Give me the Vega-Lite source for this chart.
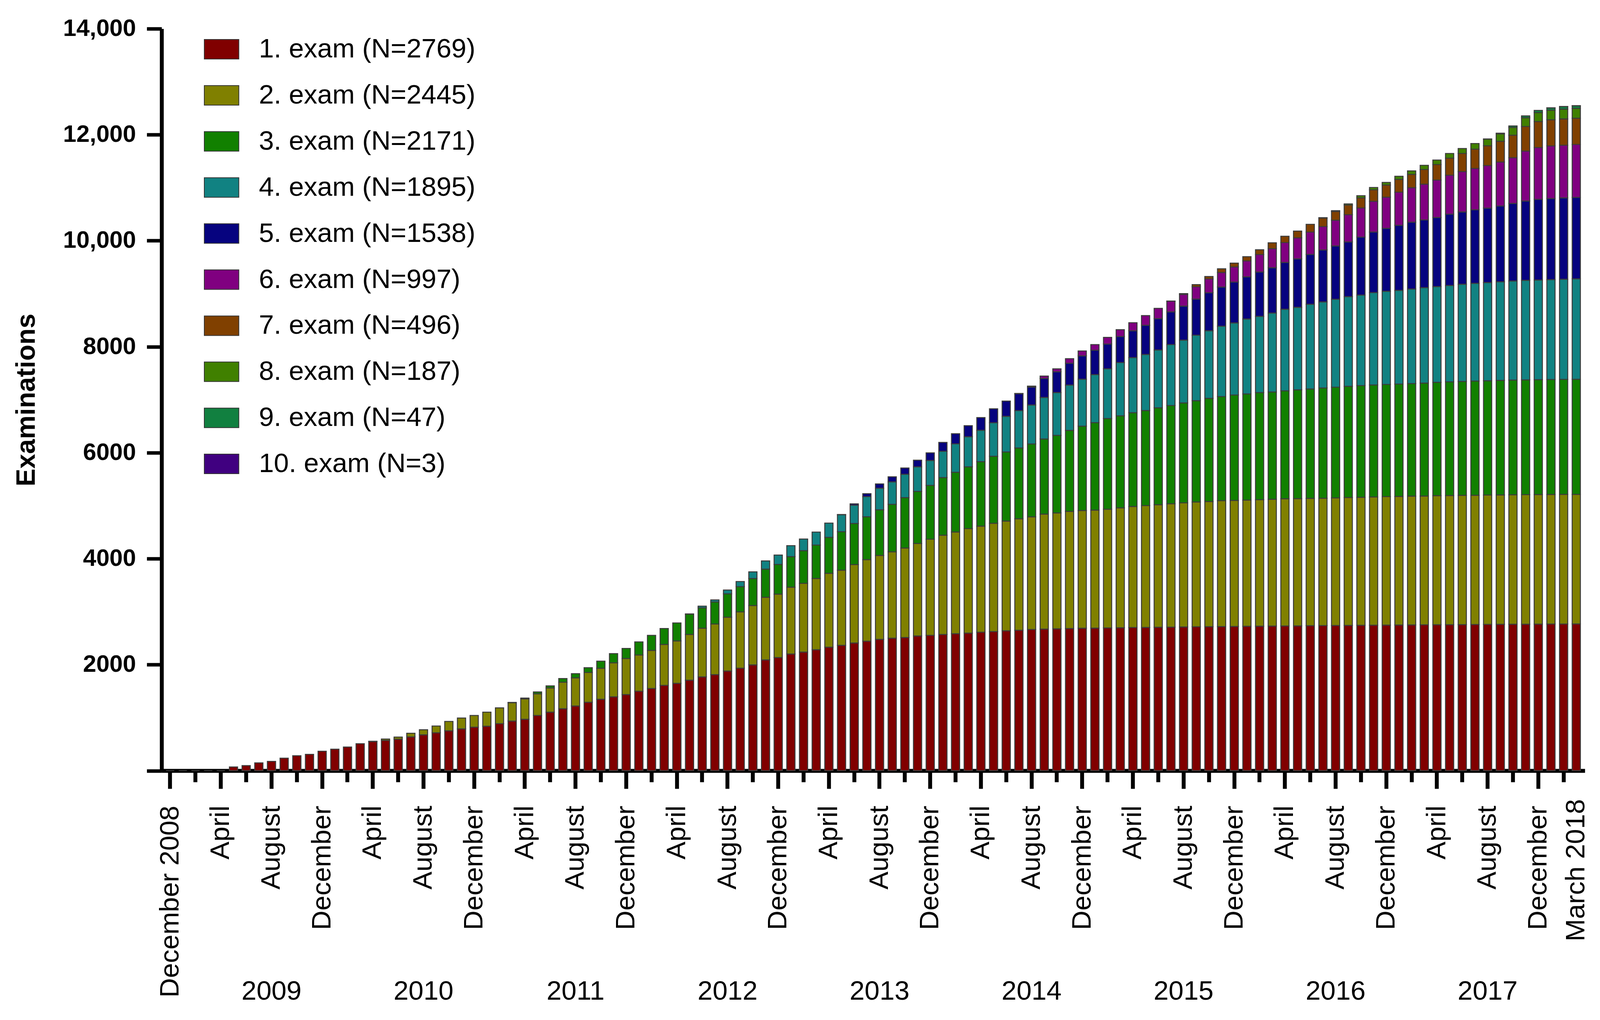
{
"$schema": "https://vega.github.io/schema/vega-lite/v6.json",
"width": 4096, "height": 2610,
"autosize": {"type": "fit", "contains": "padding"},
"padding": {"left": 34.7, "top": 42.5, "right": 28.8, "bottom": 39},
"background": "white",
"config": {"font": "Liberation Sans", "view": {"stroke": null}},
"data": {"values": [
{"m":"2008-12","e01":0},{"m":"2009-01","e01":0},{"m":"2009-02","e01":0},{"m":"2009-03","e01":0},{"m":"2009-04","e01":0},
{"m":"2009-05","e01":70},{"m":"2009-06","e01":95},{"m":"2009-07","e01":148},{"m":"2009-08","e01":176},{"m":"2009-09","e01":236},
{"m":"2009-10","e01":282},{"m":"2009-11","e01":307},{"m":"2009-12","e01":366},{"m":"2010-01","e01":406},{"m":"2010-02","e01":446},
{"m":"2010-03","e01":508},{"m":"2010-04","e01":550,"e02":5},{"m":"2010-05","e01":572,"e02":25},{"m":"2010-06","e01":594,"e02":40},
{"m":"2010-07","e01":638,"e02":69},{"m":"2010-08","e01":676,"e02":96},{"m":"2010-09","e01":715,"e02":127},{"m":"2010-10","e01":753,"e02":177},
{"m":"2010-11","e01":789,"e02":204},{"m":"2010-12","e01":820,"e02":221},{"m":"2011-01","e01":838,"e02":266},{"m":"2011-02","e01":887,"e02":299},
{"m":"2011-03","e01":937,"e02":346,"e03":5},{"m":"2011-04","e01":970,"e02":385,"e03":15},{"m":"2011-05","e01":1042,"e02":408,"e03":35},
{"m":"2011-06","e01":1104,"e02":457,"e03":40},{"m":"2011-07","e01":1168,"e02":500,"e03":70},{"m":"2011-08","e01":1221,"e02":530,"e03":80},
{"m":"2011-09","e01":1290,"e02":562,"e03":92},{"m":"2011-10","e01":1348,"e02":584,"e03":135},{"m":"2011-11","e01":1394,"e02":642,"e03":172},
{"m":"2011-12","e01":1436,"e02":680,"e03":190},{"m":"2012-01","e01":1498,"e02":684,"e03":247},{"m":"2012-02","e01":1550,"e02":720,"e03":283},
{"m":"2012-03","e01":1610,"e02":772,"e03":300},{"m":"2012-04","e01":1648,"e02":800,"e03":340},
{"m":"2012-05","e01":1708,"e02":862,"e03":383,"e04":5},{"m":"2012-06","e01":1770,"e02":918,"e03":386,"e04":30},
{"m":"2012-07","e01":1812,"e02":956,"e03":415,"e04":40},{"m":"2012-08","e01":1881,"e02":1015,"e03":440,"e04":72},
{"m":"2012-09","e01":1933,"e02":1063,"e03":477,"e04":97},{"m":"2012-10","e01":1996,"e02":1119,"e03":511,"e04":125},
{"m":"2012-11","e01":2090,"e02":1182,"e03":532,"e04":155},{"m":"2012-12","e01":2135,"e02":1196,"e03":560,"e04":177},
{"m":"2013-01","e01":2201,"e02":1262,"e03":577,"e04":205},{"m":"2013-02","e01":2239,"e02":1296,"e03":616,"e04":220},
{"m":"2013-03","e01":2282,"e02":1345,"e03":630,"e04":245},{"m":"2013-04","e01":2330,"e02":1394,"e03":678,"e04":270},
{"m":"2013-05","e01":2365,"e02":1418,"e03":727,"e04":320,"e05":3},{"m":"2013-06","e01":2410,"e02":1478,"e03":776,"e04":345,"e05":25},
{"m":"2013-07","e01":2442,"e02":1540,"e03":810,"e04":380,"e05":55},{"m":"2013-08","e01":2477,"e02":1585,"e03":860,"e04":408,"e05":80},
{"m":"2013-09","e01":2500,"e02":1630,"e03":896,"e04":424,"e05":95},{"m":"2013-10","e01":2512,"e02":1689,"e03":952,"e04":440,"e05":118},
{"m":"2013-11","e01":2543,"e02":1744,"e03":984,"e04":462,"e05":125},{"m":"2013-12","e01":2553,"e02":1814,"e03":1016,"e04":470,"e05":144},
{"m":"2014-01","e01":2570,"e02":1873,"e03":1088,"e04":496,"e05":168},{"m":"2014-02","e01":2585,"e02":1918,"e03":1128,"e04":536,"e05":192},
{"m":"2014-03","e01":2595,"e02":1971,"e03":1168,"e04":568,"e05":208},{"m":"2014-04","e01":2612,"e02":2003,"e03":1216,"e04":592,"e05":240},
{"m":"2014-05","e01":2626,"e02":2042,"e03":1264,"e04":632,"e05":264},{"m":"2014-06","e01":2640,"e02":2070,"e03":1304,"e04":672,"e05":288},
{"m":"2014-07","e01":2650,"e02":2103,"e03":1336,"e04":704,"e05":320,"e06":5},{"m":"2014-08","e01":2664,"e02":2125,"e03":1376,"e04":736,"e05":336,"e06":20},
{"m":"2014-09","e01":2672,"e02":2170,"e03":1416,"e04":784,"e05":360,"e06":45},{"m":"2014-10","e01":2677,"e02":2186,"e03":1464,"e04":808,"e05":392,"e06":55},
{"m":"2014-11","e01":2682,"e02":2210,"e03":1530,"e04":855,"e05":410,"e06":88},{"m":"2014-12","e01":2687,"e02":2222,"e03":1591,"e04":888,"e05":440,"e06":92},
{"m":"2015-01","e01":2690,"e02":2227,"e03":1650,"e04":906,"e05":462,"e06":105},{"m":"2015-02","e01":2693,"e02":2241,"e03":1710,"e04":939,"e05":468,"e06":125},
{"m":"2015-03","e01":2697,"e02":2262,"e03":1736,"e04":1006,"e05":491,"e06":130},{"m":"2015-04","e01":2700,"e02":2285,"e03":1769,"e04":1040,"e05":508,"e06":150},
{"m":"2015-05","e01":2703,"e02":2299,"e03":1794,"e04":1058,"e05":550,"e06":183},{"m":"2015-06","e01":2706,"e02":2313,"e03":1828,"e04":1091,"e05":592,"e06":194},
{"m":"2015-07","e01":2709,"e02":2327,"e03":1853,"e04":1151,"e05":617,"e06":202,"e07":3},{"m":"2015-08","e01":2712,"e02":2341,"e03":1887,"e04":1184,"e05":643,"e06":220,"e07":15},
{"m":"2015-09","e01":2715,"e02":2355,"e03":1912,"e04":1235,"e05":682,"e06":232,"e07":40},{"m":"2015-10","e01":2718,"e02":2361,"e03":1946,"e04":1277,"e05":717,"e06":260,"e07":45},
{"m":"2015-11","e01":2720,"e02":2376,"e03":1963,"e04":1327,"e05":740,"e06":275,"e07":70},{"m":"2015-12","e01":2722,"e02":2378,"e03":1988,"e04":1361,"e05":771,"e06":285,"e07":72},
{"m":"2016-01","e01":2724,"e02":2380,"e03":2005,"e04":1413,"e05":797,"e06":300,"e07":80},{"m":"2016-02","e01":2727,"e02":2386,"e03":2022,"e04":1438,"e05":837,"e06":330,"e07":90},
{"m":"2016-03","e01":2729,"e02":2392,"e03":2025,"e04":1489,"e05":856,"e06":360,"e07":110},{"m":"2016-04","e01":2731,"e02":2399,"e03":2038,"e04":1540,"e05":882,"e06":375,"e07":120},
{"m":"2016-05","e01":2733,"e02":2399,"e03":2055,"e04":1557,"e05":914,"e06":396,"e07":128},{"m":"2016-06","e01":2735,"e02":2403,"e03":2064,"e04":1599,"e05":941,"e06":422,"e07":145},
{"m":"2016-07","e01":2737,"e02":2403,"e03":2081,"e04":1625,"e05":981,"e06":440,"e07":160,"e08":8},{"m":"2016-08","e01":2739,"e02":2408,"e03":2089,"e04":1659,"e05":1006,"e06":486,"e07":165,"e08":15},
{"m":"2016-09","e01":2741,"e02":2414,"e03":2098,"e04":1692,"e05":1032,"e06":515,"e07":180,"e08":22},{"m":"2016-10","e01":2743,"e02":2415,"e03":2108,"e04":1709,"e05":1092,"e06":551,"e07":190,"e08":42},
{"m":"2016-11","e01":2745,"e02":2419,"e03":2114,"e04":1743,"e05":1143,"e06":581,"e07":215,"e08":45},{"m":"2016-12","e01":2747,"e02":2425,"e03":2116,"e04":1759,"e05":1186,"e06":588,"e07":230,"e08":50},
{"m":"2017-01","e01":2749,"e02":2426,"e03":2120,"e04":1768,"e05":1228,"e06":625,"e07":242,"e08":58},{"m":"2017-02","e01":2751,"e02":2429,"e03":2124,"e04":1784,"e05":1262,"e06":650,"e07":252,"e08":66},
{"m":"2017-03","e01":2752,"e02":2431,"e03":2130,"e04":1802,"e05":1278,"e06":674,"e07":276,"e08":80},{"m":"2017-04","e01":2754,"e02":2435,"e03":2140,"e04":1806,"e05":1303,"e06":706,"e07":293,"e08":85},
{"m":"2017-05","e01":2755,"e02":2437,"e03":2145,"e04":1818,"e05":1346,"e06":735,"e07":322,"e08":88},{"m":"2017-06","e01":2757,"e02":2438,"e03":2150,"e04":1835,"e05":1363,"e06":762,"e07":340,"e08":95},
{"m":"2017-07","e01":2758,"e02":2439,"e03":2155,"e04":1843,"e05":1388,"e06":781,"e07":362,"e08":108},
{"m":"2017-08","e01":2760,"e02":2440,"e03":2158,"e04":1852,"e05":1405,"e06":804,"e07":373,"e08":125,"e09":3},
{"m":"2017-09","e01":2761,"e02":2442,"e03":2162,"e04":1860,"e05":1430,"e06":830,"e07":392,"e08":140,"e09":12},
{"m":"2017-10","e01":2763,"e02":2443,"e03":2165,"e04":1869,"e05":1464,"e06":863,"e07":423,"e08":148,"e09":28},
{"m":"2017-11","e01":2764,"e02":2444,"e03":2167,"e04":1877,"e05":1498,"e06":942,"e07":463,"e08":165,"e09":35},
{"m":"2017-12","e01":2766,"e02":2444,"e03":2168,"e04":1880,"e05":1523,"e06":978,"e07":490,"e08":170,"e09":40},
{"m":"2018-01","e01":2767,"e02":2445,"e03":2169,"e04":1885,"e05":1530,"e06":993,"e07":493,"e08":180,"e09":44,"e10":1},
{"m":"2018-02","e01":2768,"e02":2445,"e03":2170,"e04":1890,"e05":1535,"e06":995,"e07":495,"e08":185,"e09":47,"e10":2},
{"m":"2018-03","e01":2769,"e02":2445,"e03":2171,"e04":1895,"e05":1538,"e06":997,"e07":496,"e08":187,"e09":47,"e10":3}
]},
"transform": [
  {"fold": ["e01","e02","e03","e04","e05","e06","e07","e08","e09","e10"], "as": ["exam","v"]},
  {"filter": "isValid(datum.v)"}
],
"layer": [
 {
  "mark": {"type": "bar", "stroke": "#3c3c3c", "strokeWidth": 2.5},
  "encoding": {
   "x": {"field": "m", "type": "ordinal", "scale": {"type": "band", "paddingInner": 0.35, "paddingOuter": 0.35},
     "axis": {
       "orient": "bottom",
       "values": ["2008-12","2009-02","2009-04","2009-06","2009-08","2009-10","2009-12","2010-02","2010-04","2010-06","2010-08","2010-10","2010-12","2011-02","2011-04","2011-06","2011-08","2011-10","2011-12","2012-02","2012-04","2012-06","2012-08","2012-10","2012-12","2013-02","2013-04","2013-06","2013-08","2013-10","2013-12","2014-02","2014-04","2014-06","2014-08","2014-10","2014-12","2015-02","2015-04","2015-06","2015-08","2015-10","2015-12","2016-02","2016-04","2016-06","2016-08","2016-10","2016-12","2017-02","2017-04","2017-06","2017-08","2017-10","2017-12","2018-02","2018-03"],
       "labelExpr": "datum.value == '2008-12' ? 'December 2008' : datum.value == '2018-03' ? 'March 2018' : slice(datum.value,5) == '12' ? 'December' : slice(datum.value,5) == '04' ? 'April' : slice(datum.value,5) == '08' ? 'August' : ''",
       "labelAngle": 270, "labelAlign": "right", "labelBaseline": "middle",
       "labelFontSize": 69, "labelFont": "Liberation Sans", "labelColor": "black", "labelPadding": 43,
       "tickSize": {"condition": {"test": "indexof(['12','04','08'], slice(datum.value,5)) >= 0", "value": 46}, "value": 29},
       "tickOpacity": {"condition": {"test": "datum.value == '2018-03'", "value": 0}, "value": 1},
       "tickWidth": 10, "tickColor": "black", "domainWidth": 10, "domainColor": "black",
       "labelOverlap": false, "labelFlush": false, "labelLimit": 0, "title": null, "grid": false
     }},
   "y": {"field": "v", "type": "quantitative", "stack": "zero", "scale": {"domain": [0, 14000], "nice": false},
     "axis": {
       "values": [0,2000,4000,6000,8000,10000,12000,14000],
       "labelExpr": "datum.value == 0 ? '' : (datum.value >= 10000 ? format(datum.value, ',') : format(datum.value, 'd'))",
       "title": "Examinations", "titleFont": "Liberation Sans", "titleFontSize": 68, "titleFontWeight": "bold", "titleColor": "black",
       "titleX": -345, "titleY": 949.5, "titleAngle": 270, "titleBaseline": "middle", "titleAlign": "center",
       "labelFont": "Liberation Sans", "labelFontSize": 61, "labelFontWeight": "bold", "labelColor": "black", "labelPadding": 28, "labelLimit": 0,
       "tickSize": 38, "tickWidth": 9, "tickColor": "black", "domainWidth": 10, "domainColor": "black", "grid": false, "labelOverlap": false, "labelFlush": false
     }},
   "color": {"field": "exam", "type": "nominal",
     "scale": {"domain": ["e01","e02","e03","e04","e05","e06","e07","e08","e09","e10"],
               "range": ["#800000","#808000","#118000","#118282","#06037f","#800080","#804000","#408000","#118040","#400080"]},
     "legend": {
       "orient": "none", "legendX": 108, "legendY": 7, "title": null, "padding": 0,
       "labelExpr": "['1. exam (N=2769)','2. exam (N=2445)','3. exam (N=2171)','4. exam (N=1895)','5. exam (N=1538)','6. exam (N=997)','7. exam (N=496)','8. exam (N=187)','9. exam (N=47)','10. exam (N=3)'][indexof(['e01','e02','e03','e04','e05','e06','e07','e08','e09','e10'], datum.value)]",
       "labelFont": "Liberation Sans", "labelFontSize": 69, "labelColor": "black", "labelLimit": 0, "labelOffset": 50,
       "symbolType": "M-1,-0.566L1,-0.566L1,0.566L-1,0.566Z", "symbolSize": 7815,
       "symbolStrokeColor": "#333333", "symbolStrokeWidth": 2, "symbolOpacity": 1,
       "rowPadding": 36.9
     }},
   "order": {"field": "exam", "type": "nominal", "sort": "ascending"}
  }
 },
 {
  "mark": {"type": "bar", "opacity": 0},
  "encoding": {
   "x": {"field": "m", "type": "ordinal", "scale": {"type": "band", "paddingInner": 0.35, "paddingOuter": 0.35},
     "axis": {
       "orient": "bottom",
       "values": ["2009-08","2010-08","2011-08","2012-08","2013-08","2014-08","2015-08","2016-08","2017-08"],
       "labelExpr": "slice(datum.value,0,4)",
       "labelAngle": 0, "labelAlign": "center", "labelBaseline": "top",
       "labelFont": "Liberation Sans", "labelFontSize": 69, "labelColor": "black", "labelPadding": 530,
       "ticks": false, "domain": false, "title": null, "grid": false, "labelOverlap": false, "labelFlush": false
     }}
  }
 }
],
"resolve": {"axis": {"x": "independent"}}
}
